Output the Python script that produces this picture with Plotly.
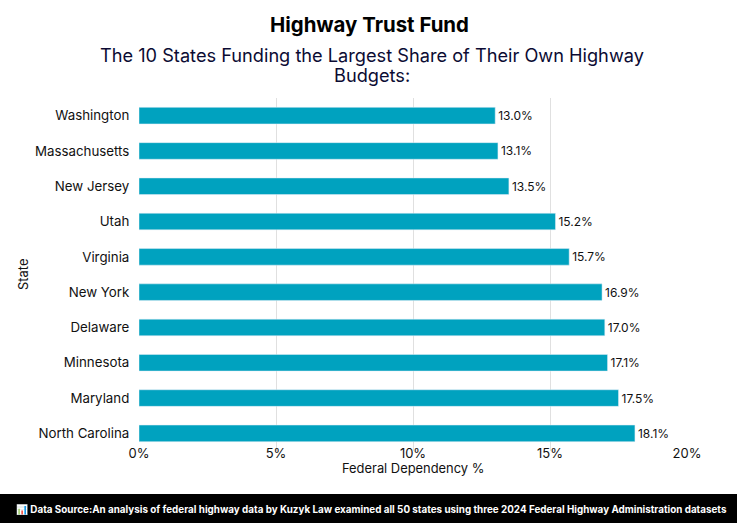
import plotly.graph_objects as go

states = ["North Carolina","Maryland","Minnesota","Delaware","New York","Virginia","Utah","New Jersey","Massachusetts","Washington"]
values = [18.1,17.5,17.1,17.0,16.9,15.7,15.2,13.5,13.1,13.0]
labels = [f"{v:.1f}%" for v in values]
ticks = [0,5,10,15,20]
tick_text = ["0%","5%","10%","15%","20%"]
title_text = "Highway Trust Fund"
subtitle_line1 = "The 10 States Funding the Largest Share of Their Own Highway"
subtitle_line2 = "Budgets:"
source_text = "📊 Data Source:An analysis of federal highway data by Kuzyk Law examined all 50 states using three 2024 Federal Highway Administration datasets"
FONT = "Inter"
W, H = 737, 523
L, R, T, B = 139, 50, 98, 72
PW, PH = W - L - R, H - T - B

def px(x):
    return (x - L) / PW

def py(y):
    return (H - B - y) / PH

fig = go.Figure(go.Bar(y=states, x=values, orientation="h", marker_color="#00A2BF", width=0.47,
    text=labels, textposition="outside", cliponaxis=False,
    textfont=dict(family=FONT, size=12, color="#111")))
fig.update_layout(
    width=W, height=H, autosize=False, paper_bgcolor="white", plot_bgcolor="white",
    margin=dict(l=L, r=R, t=T, b=B), showlegend=False,
    font=dict(family=FONT, size=13, color="#111"),
)
fig.update_xaxes(range=[0,20], tickvals=ticks, ticktext=tick_text, showgrid=True, gridcolor="#E0E0E0", zeroline=False,
    ticks="", showline=False, ticklabelstandoff=-7, tickfont=dict(family=FONT, size=13))
fig.update_yaxes(ticks="outside", ticklen=6, tickcolor="rgba(0,0,0,0)", showgrid=False, showline=False,
    tickfont=dict(family=FONT, size=13.3))
fig.add_shape(type="rect", xref="paper", yref="paper", x0=px(0), x1=px(W), y0=py(H), y1=py(494),
    fillcolor="black", line_width=0, layer="above")
def note(text, x, y, size, color="#111", xanchor="center", angle=0, family=FONT):
    fig.add_annotation(text=text, xref="paper", yref="paper", x=px(x), y=py(y), showarrow=False,
        xanchor=xanchor, yanchor="middle", textangle=angle, font=dict(family=family, size=size, color=color))
note(f"<b>{title_text}</b>", 369, 24, 20.4, "#000")
note(subtitle_line1, 372, 55, 18.2, "#0B0B33")
note(subtitle_line2, 372, 75, 18.2, "#0B0B33")
note("Federal Dependency %", 413, 468, 12.9)
note("State", 23, 275, 12.9, angle=-90)
note(f"<b>{source_text}</b>", 14, 509, 9.85, "white", xanchor="left")
fig.write_html("out.html", config={"displayModeBar": False}, post_script="document.body.style.margin='0';")
